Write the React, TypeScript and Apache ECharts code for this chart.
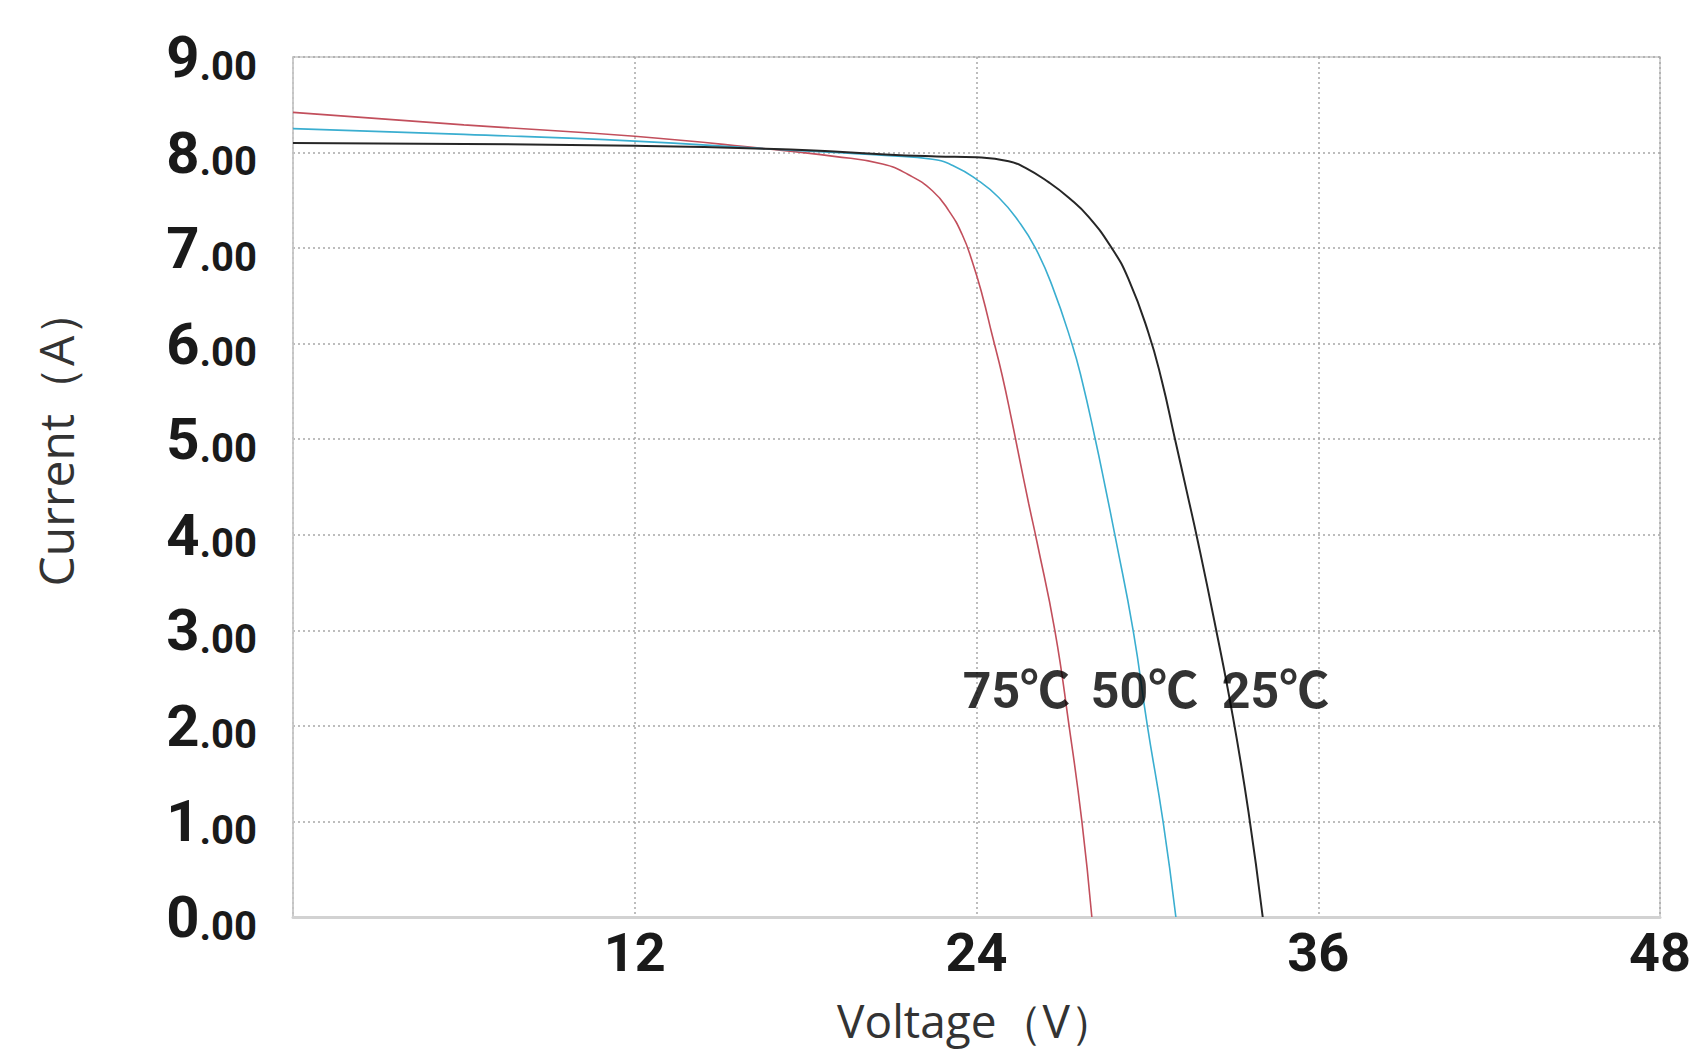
import React, { useEffect, useRef } from "react";
import * as echarts from "echarts";

// ---- data ----
const xTicks = [0, 12, 24, 36, 48];
const yTicks = [0, 1, 2, 3, 4, 5, 6, 7, 8, 9];

const volt25 = [0, 6, 12, 16.6, 19, 20.8, 22.6, 24, 25.13, 25.72, 26.53, 27.23, 27.93, 28.75, 29.33, 30.03, 30.5, 30.97, 31.37, 31.78, 32.35, 33.0, 33.55, 34.05];
const curr25 = [8.1, 8.09, 8.07, 8.04, 8.01, 7.98, 7.96, 7.95, 7.91, 7.84, 7.69, 7.53, 7.33, 7.0, 6.68, 6.12, 5.62, 5.0, 4.47, 3.92, 3.1, 2.1, 1.1, 0];

const volt50 = [0, 6, 12, 16.6, 19, 20.8, 22.45, 23.2, 24, 24.78, 25.48, 26.07, 26.65, 27.35, 27.7, 28.17, 28.52, 28.87, 29.5, 30.0, 30.55, 31.0];
const curr50 = [8.25, 8.19, 8.12, 8.04, 8.0, 7.97, 7.93, 7.86, 7.72, 7.53, 7.28, 7.0, 6.61, 6.0, 5.62, 5.0, 4.5, 3.98, 3.0, 2.0, 1.0, 0];

const volt75 = [0, 6, 12, 16.6, 19, 20.7, 21.6, 22.45, 23.03, 23.5, 23.85, 24.2, 24.55, 24.9, 25.25, 25.48, 25.83, 26.12, 26.75, 27.25, 27.7, 28.05];
const curr75 = [8.42, 8.29, 8.17, 8.04, 7.96, 7.88, 7.77, 7.6, 7.39, 7.14, 6.86, 6.51, 6.09, 5.67, 5.18, 4.84, 4.33, 3.93, 3.0, 2.0, 1.0, 0];

const tempLabels = ["75℃", "50℃", "25℃"];
const labelVoltages = [25.4, 29.9, 34.5];
const labelCurrents = [2.37, 2.37, 2.37];

const seriesNames = ["25℃", "50℃", "75℃"];
const seriesColors = ["#262626", "#3aaed0", "#c24f5c"];

const xName = "Voltage（V）";
const yName = "Current（A）";

const zip = (xs: number[], ys: number[]) => xs.map((x, i) => [x, ys[i]]);

const NUMFONT = "Roboto, 'Liberation Sans', sans-serif";

export default function App() {
  const ref = useRef<HTMLDivElement>(null);

  useEffect(() => {
    if (!ref.current) return;
    const chart = echarts.init(ref.current, undefined, { renderer: "svg" });
    const curves = [zip(volt25, curr25), zip(volt50, curr50), zip(volt75, curr75)];
    const option: any = {
      animation: false,
      backgroundColor: "#ffffff",
      grid: {
        left: 293,
        top: 57,
        right: 29,
        bottom: 133,
        containLabel: false,
        show: true,
        borderColor: "#c8c8c8",
        borderWidth: 1.5,
        backgroundColor: "transparent",
      },
      xAxis: {
        type: "value",
        min: xTicks[0],
        max: xTicks[xTicks.length - 1],
        interval: 12,
        name: xName,
        nameLocation: "middle",
        nameGap: 80,
        nameTextStyle: { fontSize: 46, fontFamily: "'Open Sans', sans-serif", color: "#333" },
        axisLine: { show: true, lineStyle: { color: "#d2d2d2", width: 3 } },
        axisTick: { show: false },
        axisLabel: {
          margin: 8,
          fontSize: 54,
          fontWeight: "bold",
          fontFamily: NUMFONT,
          color: "#1a1a1a",
          formatter: (v: number) => (v === 0 ? "" : String(v)),
        },
        splitLine: { show: true, lineStyle: { color: "#a8a8a8", width: 1.5, type: [2, 3] } },
      },
      yAxis: {
        type: "value",
        min: yTicks[0],
        max: yTicks[yTicks.length - 1],
        interval: 1,
        name: yName,
        nameLocation: "middle",
        nameGap: 214,
        nameTextStyle: {
          fontSize: 48,
          fontFamily: "'Open Sans', sans-serif",
          color: "#333",
          padding: [0, 0, 0, 100],
        },
        axisLine: { show: true, lineStyle: { color: "#c8c8c8", width: 1.5 } },
        axisTick: { show: false },
        axisLabel: {
          margin: 36,
          formatter: (v: number) => `{a|${v}}{b|.00}`,
          rich: {
            a: { fontSize: 58, fontWeight: "bold", fontFamily: NUMFONT, color: "#1a1a1a", lineHeight: 58, verticalAlign: "bottom" },
            b: { fontSize: 40, fontWeight: "bold", fontFamily: NUMFONT, color: "#1a1a1a", lineHeight: 42, verticalAlign: "bottom" },
          },
        },
        splitLine: { show: true, lineStyle: { color: "#a8a8a8", width: 1.5, type: [2, 3] } },
      },
      series: [
        ...curves.map((d, i) => ({
          name: seriesNames[i],
          type: "line",
          data: d,
          showSymbol: false,
          symbol: "none",
          smooth: 0.5,
          lineStyle: { color: seriesColors[i], width: i === 0 ? 2 : 1.6 },
          z: 3 - i,
        })),
        {
          name: "labels",
          type: "scatter",
          symbolSize: 0,
          silent: true,
          data: labelVoltages.map((v, i) => ({ value: [v, labelCurrents[i]], name: tempLabels[i] })),
          label: {
            show: true,
            position: "inside",
            formatter: (p: any) => p.name,
            fontSize: 50,
            fontWeight: "bold",
            fontFamily: "Roboto, 'Noto Sans CJK SC', sans-serif",
            color: "#000",
          },
          z: 10,
        },
      ],
    };
    chart.setOption(option);
    return () => chart.dispose();
  }, []);

  return (
    <div
      ref={ref}
      style={{ position: "absolute", left: 0, top: 0, width: 1694, height: 1050, background: "#fff" }}
    />
  );
}
